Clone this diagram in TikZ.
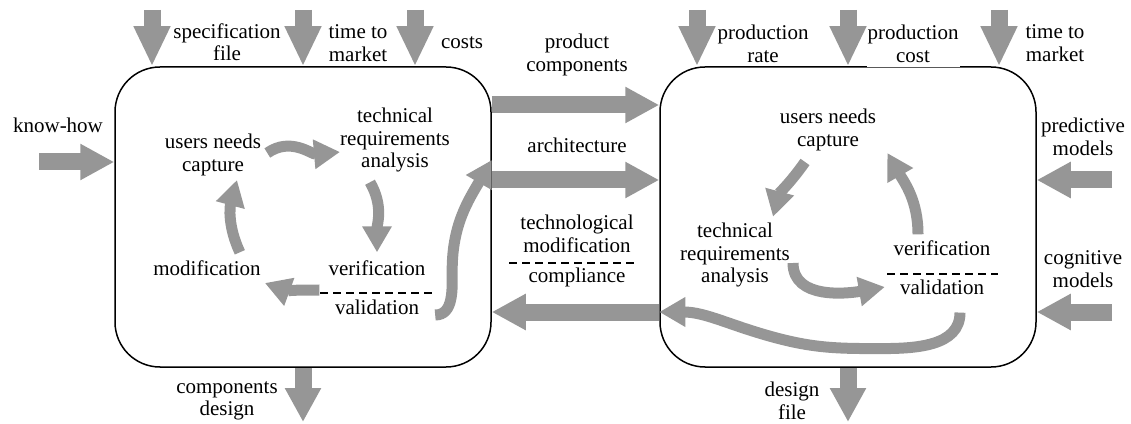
\documentclass[tikz,border=0pt]{standalone}
\usepackage{fontspec}
\setmainfont{Liberation Serif}
\usetikzlibrary{arrows.meta,positioning}
\definecolor{arrowgray}{RGB}{150,150,150}

\begin{document}
\begin{tikzpicture}[x=1pt,y=1pt]
\tikzset{
  lbl/.style={align=center, inner sep=0pt, font=\fontsize{21}{22.5}\selectfont},
  phase/.style={draw, line width=1.5pt, rounded corners=45pt,
    minimum width=376pt, minimum height=300pt},
  bigarrow/.style={draw=arrowgray, line width=17pt,
    -{Triangle[length=34pt,width=34pt]}},
  droparrow/.style={bigarrow, -{Triangle[length=40pt,width=34pt]}},
  cyclearrow/.style={draw=arrowgray, line width=11pt,
    -{Triangle[length=26pt,width=28pt]}},
  sepline/.style={line width=1.2pt, dash pattern=on 8pt off 5pt}
}
\useasboundingbox (0,0) rectangle (1131,423);

% the two phases
\node[phase] (ldesign) at (303,206) {};
\node[phase] (rprod) at (848,206) {};

% left phase
\node[lbl] (lusers) at (213,268) {users needs\\capture};
\node[lbl] (ltech) at (395,283) {technical\\requirements\\analysis};
\node[lbl] (lmodif) at (207,155) {modification};
\node[lbl] (lverif) at (377,155) {verification};
\node[lbl] (lvalid) at (377,116) {validation};
\draw[sepline] (320,130) -- (435,130);

% right phase
\node[lbl] (rusers) at (828,293) {users needs\\capture};
\node[lbl] (rtech) at (735,168) {technical\\requirements\\analysis};
\node[lbl] (rverif) at (942,175) {verification};
\node[lbl] (rvalid) at (942,136) {validation};
\draw[sepline] (887,149) -- (998,149);

% labels round the phases
\node[lbl] (spec) at (227,381) {specification\\file};
\node[lbl] (ltime) at (358,380) {time to\\market};
\node[lbl] (costs) at (462,380) {costs};
\node[lbl] (prate) at (763,379) {production\\rate};
\node[lbl, fill=white, inner xsep=1pt, inner ysep=4pt] (pcost) at (913,379) {production\\cost};
\node[lbl] (rtime) at (1055,380) {time to\\market};
\node[lbl] (knowhow) at (58,298) {know-how};
\node[lbl] (predict) at (1083,286) {predictive\\models};
\node[lbl] (cognit) at (1083,154) {cognitive\\models};
\node[lbl] (compdes) at (227,22) {components\\design};
\node[lbl] (desfile) at (792,22) {design\\file};
\node[lbl] (prodcomp) at (577,368) {product\\components};
\node[lbl] (archi) at (577,278) {architecture};
\node[lbl] (techmod) at (577,189) {technological\\modification};
\draw[sepline] (509,160) -- (638,160);
\node[lbl] (compl) at (577,146) {compliance};

% inputs and outputs
\foreach \x [count=\i] in {152,303,415} {
  \coordinate (lin\i) at (\x,413);
  \draw[droparrow] (lin\i) -- (lin\i |- ldesign.north);
}
\foreach \x [count=\i] in {697,848,999} {
  \coordinate (rin\i) at (\x,413);
  \draw[droparrow] (rin\i) -- (rin\i |- rprod.north);
}
\coordinate (khin) at (39,261);
\draw[bigarrow] (khin) -- (khin -| ldesign.west);
\coordinate (pmin) at (1112,243);
\draw[bigarrow] (pmin) -- (pmin -| rprod.east);
\coordinate (cmin) at (1112,111);
\draw[bigarrow] (cmin) -- (cmin -| rprod.east);
\coordinate (lout) at (303,1);
\draw[bigarrow] (ldesign.south) -- (lout);
\coordinate (rout) at (848,1);
\draw[bigarrow] (rprod.south) -- (rout);

% between the phases
\draw[bigarrow] ([yshift=112pt]ldesign.east) -- ([yshift=112pt]rprod.west);
\draw[bigarrow] ([yshift=37pt]ldesign.east) -- ([yshift=37pt]rprod.west);
\draw[bigarrow] ([yshift=-95pt]rprod.west) -- ([yshift=-95pt]ldesign.east);

% left cycle
\draw[cyclearrow] ([shift={(6pt,2pt)}]lusers.east) to[out=35,in=185] ([yshift=-12pt]ltech.west);
\draw[cyclearrow] ([shift={(-25pt,-10pt)}]ltech.south) to[out=-60,in=90] ([yshift=8pt]lverif.north);
\draw[cyclearrow] ([shift={(-9pt,-22pt)}]lverif.west) to[out=180,in=-20] ([shift={(4pt,-15pt)}]lmodif.east);
\draw[cyclearrow] ([shift={(-21pt,8pt)}]lmodif.north east) to[out=115,in=-105] ([shift={(24pt,-4pt)}]lusers.south);
\draw[cyclearrow] ([shift={(16pt,-8pt)}]lvalid.east) to[out=0,in=-90] ++(17pt,45pt)
  to[out=90,in=-120] ([yshift=57pt]ldesign.east);

% right cycle
\draw[cyclearrow] ([shift={(-23pt,-11pt)}]rusers.south) to[out=-125,in=75] ([shift={(38pt,6pt)}]rtech.north);
\draw[cyclearrow] ([shift={(3pt,-8pt)}]rtech.east) to[out=-90,in=190] ([xshift=-15pt]rvalid.west);
\draw[cyclearrow] ([shift={(-24pt,6pt)}]rverif.north) to[out=90,in=-60] ([shift={(11pt,-23pt)}]rusers.east);
\draw[cyclearrow] ([shift={(18pt,-18pt)}]rvalid.south) to[out=-90,in=0] ++(-80pt,-36pt)
  to[out=180,in=-15] ++(-105pt,11pt) to[out=165,in=0] ([yshift=-95pt]rprod.west);
\end{tikzpicture}
\end{document}
